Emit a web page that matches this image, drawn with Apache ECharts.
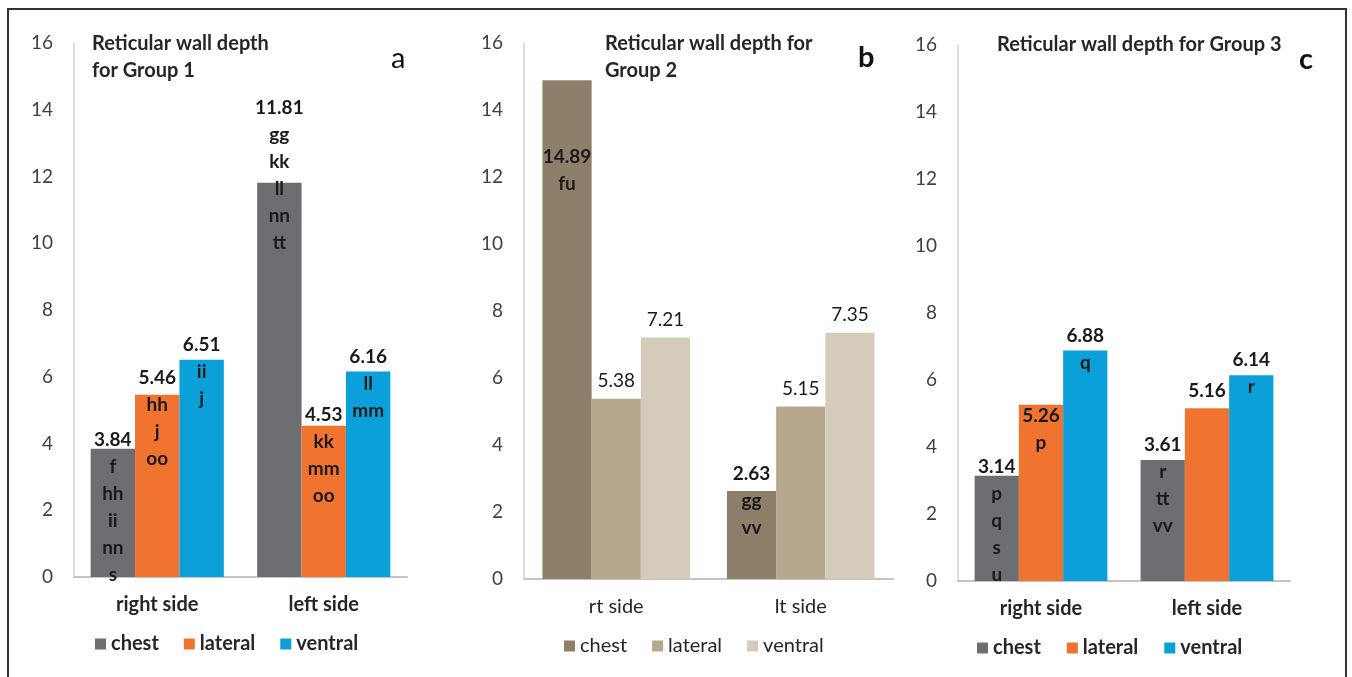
<!DOCTYPE html>
<html>
<head>
<meta charset="utf-8">
<script src="https://cdn.jsdelivr.net/npm/echarts@6/dist/echarts.min.js"></script>
<style>
html,body{margin:0;padding:0;background:#fff;}
#chart{width:1352px;height:677px;}
</style>
</head>
<body>
<div id="chart"></div>
<script>
// ---------- DATA ----------
const seriesNames = ['chest', 'lateral', 'ventral'];
const yTicks = [0, 2, 4, 6, 8, 10, 12, 14, 16];

const titleA = 'Reticular wall depth\nfor Group 1';
const titleB = 'Reticular wall depth for\nGroup 2';
const titleC = 'Reticular wall depth for Group 3';
const panelLetters = ['a', 'b', 'c'];

const categoriesA = ['right side', 'left side'];
const chestA = [3.84, 11.81];
const lateralA = [5.46, 4.53];
const ventralA = [6.51, 6.16];
const chestA_letters = ['f\nhh\nii\nnn\ns', 'gg\nkk\nll\nnn\ntt'];
const lateralA_letters = ['hh\nj\noo', 'kk\nmm\noo'];
const ventralA_letters = ['ii\nj', 'll\nmm'];

const categoriesB = ['rt side', 'lt side'];
const chestB = [14.89, 2.63];
const lateralB = [5.38, 5.15];
const ventralB = [7.21, 7.35];
const chestB_letters = ['fu', 'gg\nvv'];
const lateralB_letters = ['', ''];
const ventralB_letters = ['', ''];

const categoriesC = ['right side', 'left side'];
const chestC = [3.14, 3.61];
const lateralC = [5.26, 5.16];
const ventralC = [6.88, 6.14];
const chestC_letters = ['p\nq\ns\nu', 'r\ntt\nvv'];
const lateralC_letters = ['p', ''];
const ventralC_letters = ['q', 'r'];

// ---------- STYLE / LAYOUT ----------
const FONT = 'Lato, "Open Sans", "DejaVu Sans", sans-serif';
const colorsAC = ['#6d6e71', '#f0742f', '#0ca0da'];
const colorsB = ['#8e7f6b', '#b7a78c', '#d5cbbb'];
const LH = 27;
const FS = 19;

// label vertical offsets (px, relative to bar top), per panel/series/category
const offA = [[-22, -88], [-30, -24], [-28, -28]];
const offB = [[63, -31], [-31, -31], [-31, -31]];
const offC = [[-22, -29], [-2, -31], [-28, -29]];

const grids = [
  {left: 74, top: 43, width: 333, height: 534},
  {left: 524, top: 43, width: 369, height: 536},
  {left: 958, top: 45, width: 332, height: 536}
];

function makeSeries(panel, vals, letters, offs, colors, boldFn) {
  return vals.map((v, si) => ({
    type: 'bar',
    name: seriesNames[si],
    xAxisIndex: panel, yAxisIndex: panel,
    barGap: '0%', barCategoryGap: '20%',
    itemStyle: {color: colors[si]},
    data: v.map((val, ci) => ({
      value: val,
      label: {
        show: true,
        position: 'insideTop',
        distance: 0,
        offset: [0, offs[si][ci]],
        formatter: () => String(val) + (letters[si][ci] ? '\n' + letters[si][ci] : ''),
        fontWeight: boldFn(si, ci) ? 'bold' : 'normal',
        fontFamily: FONT,
        fontSize: FS,
        lineHeight: LH,
        color: '#1a1a1a'
      }
    }))
  }));
}

const series = [].concat(
  makeSeries(0, [chestA, lateralA, ventralA], [chestA_letters, lateralA_letters, ventralA_letters], offA, colorsAC, () => true),
  makeSeries(1, [chestB, lateralB, ventralB], [chestB_letters, lateralB_letters, ventralB_letters], offB, colorsB, (si) => si === 0),
  makeSeries(2, [chestC, lateralC, ventralC], [chestC_letters, lateralC_letters, ventralC_letters], offC, colorsAC, () => true)
);

const cats = [categoriesA, categoriesB, categoriesC];
const xAxes = cats.map((c, i) => ({
  type: 'category', gridIndex: i, data: c,
  axisLine: {lineStyle: {color: '#c4c4c4', width: 2}},
  axisTick: {show: false},
  axisLabel: {fontFamily: FONT, fontSize: 20, fontWeight: i === 1 ? 'normal' : 'bold', color: '#262626', margin: 18}
}));
const yAxes = [0, 1, 2].map(i => ({
  type: 'value', gridIndex: i, min: yTicks[0], max: yTicks[yTicks.length - 1], interval: yTicks[1] - yTicks[0],
  axisLine: {show: true, lineStyle: {color: '#d4d4d4', width: 1.5}},
  axisTick: {show: false},
  splitLine: {show: false},
  axisLabel: {fontFamily: FONT, fontSize: FS, color: '#404040', margin: 21}
}));

function legendFor(left, top, colors, bold, gap) {
  return {
    left: left, top: top, orient: 'horizontal', padding: 0,
    itemWidth: 11, itemHeight: 11, itemGap: gap, icon: 'rect',
    textStyle: {fontFamily: FONT, fontSize: 20, fontWeight: bold ? 'bold' : 'normal', color: '#262626'},
    data: seriesNames.map((n, i) => ({name: n, itemStyle: {color: colors[i]}}))
  };
}

const TS = {fontFamily: FONT, fontSize: 20, fontWeight: 'bold', color: '#262626', lineHeight: LH};
const option = {
  animation: false,
  backgroundColor: '#fff',
  title: [
    {text: titleA, left: 92, top: 30, padding: 0, textStyle: TS},
    {text: titleB, left: 605, top: 30, padding: 0, textStyle: TS},
    {text: titleC, left: 997, top: 31, padding: 0, textStyle: TS},
    {text: panelLetters[0], left: 391, top: 42, padding: 0, textStyle: {fontFamily: FONT, fontSize: 29, fontWeight: 'normal', color: '#111', lineHeight: 34}},
    {text: panelLetters[1], left: 858, top: 41, padding: 0, textStyle: {fontFamily: FONT, fontSize: 29, fontWeight: 'bold', color: '#111', lineHeight: 34}},
    {text: panelLetters[2], left: 1299, top: 43, padding: 0, textStyle: {fontFamily: FONT, fontSize: 29, fontWeight: 'bold', color: '#111', lineHeight: 34}}
  ],
  grid: grids,
  xAxis: xAxes,
  yAxis: yAxes,
  legend: [
    legendFor(95, 634, colorsAC, true, 25),
    legendFor(564, 636, colorsB, false, 25),
    legendFor(977, 638, colorsAC, true, 26)
  ],
  series: series,
  graphic: [{
    type: 'polyline',
    shape: {points: [[8, 677], [8, 9], [1346, 9], [1346, 677]]},
    style: {stroke: '#333', lineWidth: 2, fill: null},
    silent: true
  }]
};

const chart = echarts.init(document.getElementById('chart'), null, {renderer: 'canvas'});
chart.setOption(option);
</script>
</body>
</html>
